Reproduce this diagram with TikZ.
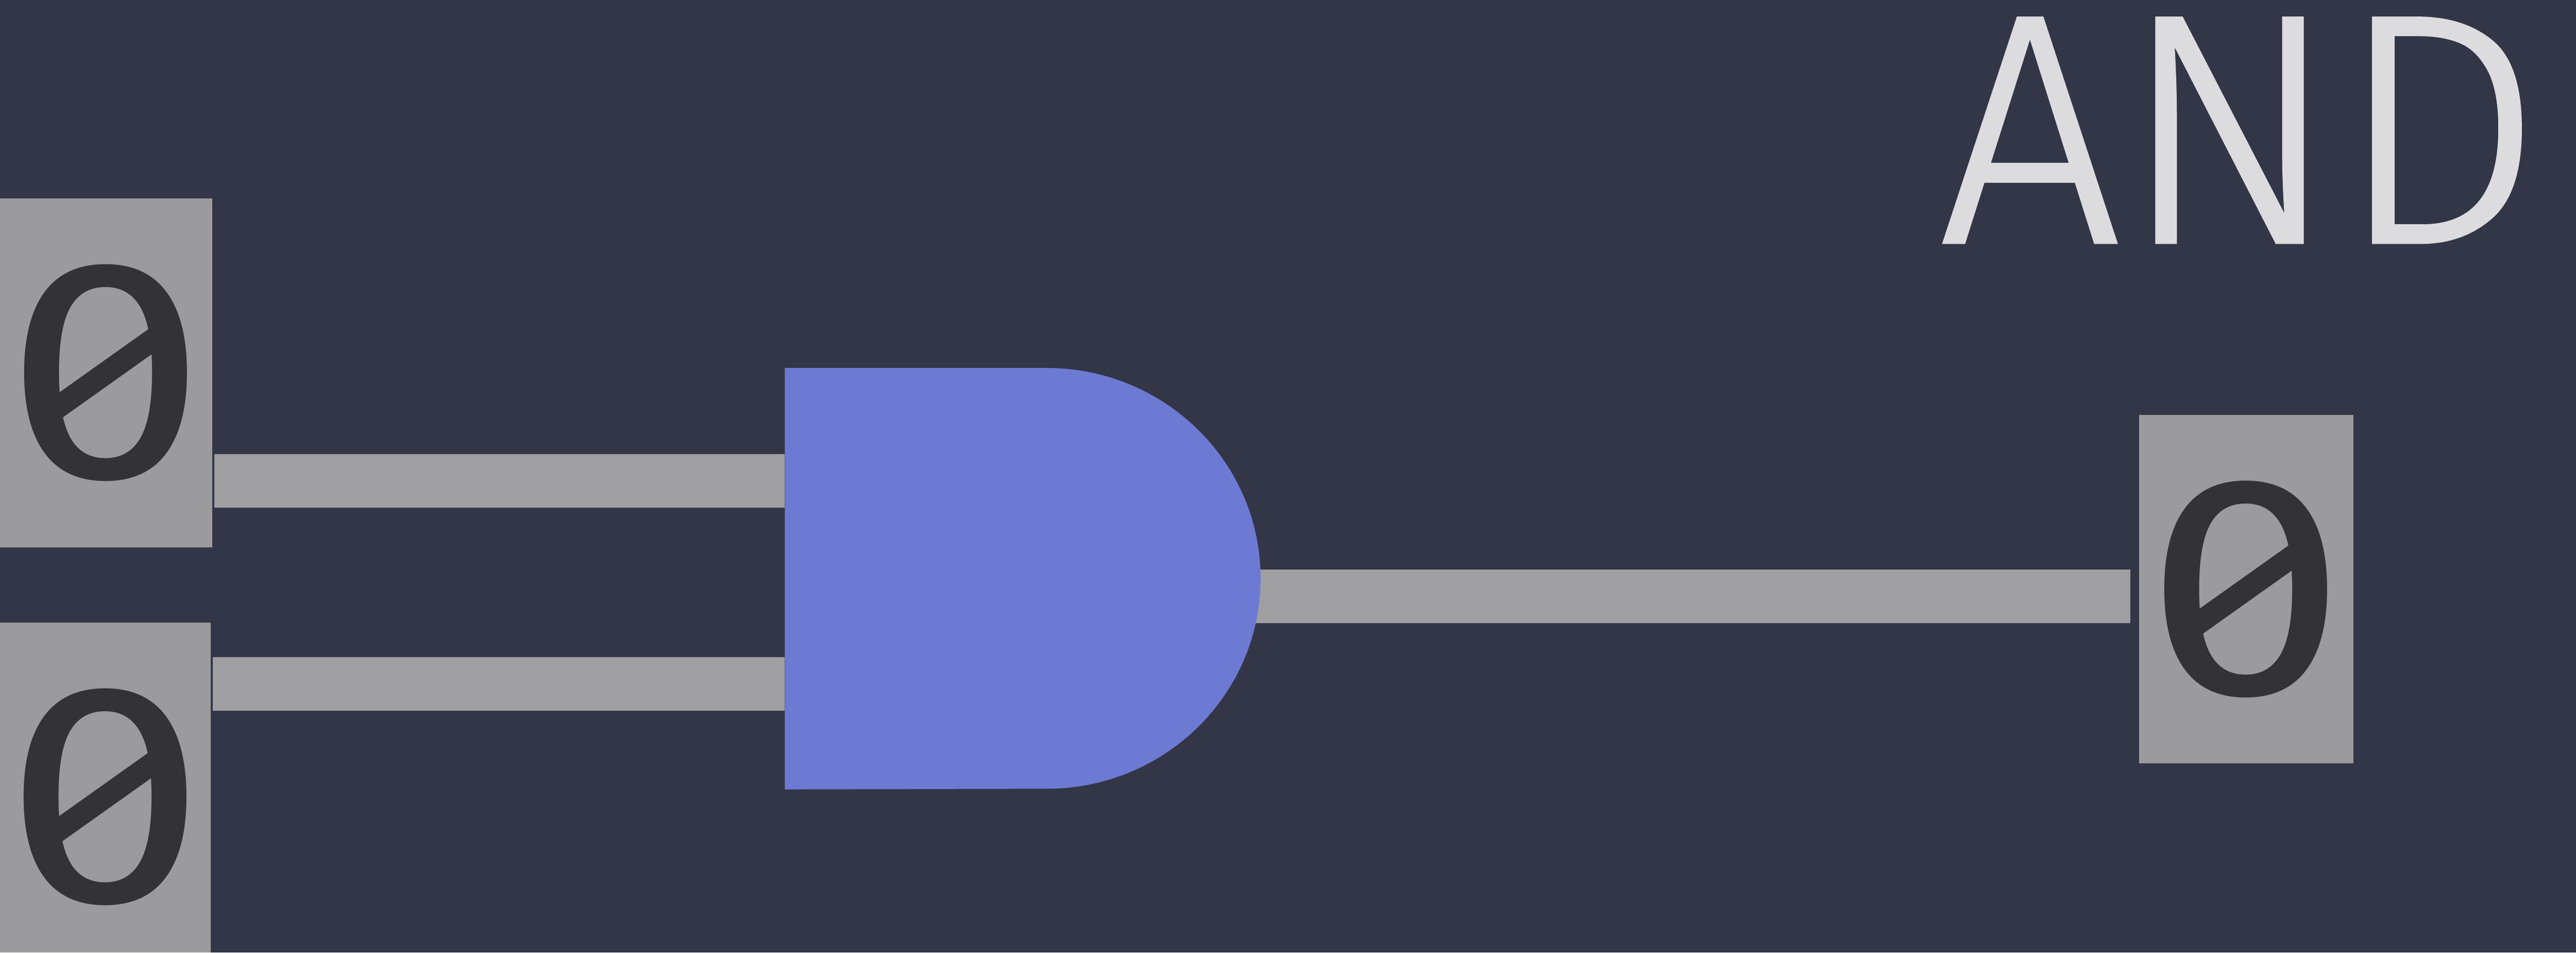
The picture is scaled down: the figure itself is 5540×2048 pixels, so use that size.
\documentclass[tikz,border=0pt]{standalone}
\usepackage{graphicx}
\usepackage{fontspec}
\setmainfont{Fira Sans}
\newfontfamily\titlefont[FakeBold=1]{Fira Sans Light}
\newfontfamily\zerofont{Fira Sans}
\definecolor{bgc}{HTML}{333647}
\definecolor{boxc}{HTML}{9B9B9D}
\definecolor{wirec}{HTML}{9F9FA1}
\definecolor{gatec}{HTML}{6D7AD3}
\definecolor{inkc}{HTML}{333335}
\definecolor{titlec}{HTML}{DCDCDF}
\newcommand{\bitzero}{\scalebox{1.17}[1.01]{0}}
\newcommand{\bitslash}[1]{\draw[slashline] ([xshift=-1.15cm,yshift=-0.82cm]#1.center) -- ([xshift=1.13cm,yshift=0.80cm]#1.center);}
\tikzset{
  bit/.style={fill=boxc,text=inkc,inner sep=0pt,font=\zerofont\fontsize{190}{190}\selectfont},
  bitbare/.style={text=inkc,inner sep=0pt,font=\zerofont\fontsize{190}{190}\selectfont},
  slashline/.style={draw=inkc,line width=0.48cm,line cap=butt},
  wire/.style={draw=wirec,line width=1.15cm,line cap=butt},
  gatebody/.style={fill=gatec},
  title/.style={text=titlec,inner sep=0pt,xscale=0.985,font=\titlefont\fontsize{200}{200}\selectfont}
}
\begin{document}
\begin{tikzpicture}[x=0.01cm,y=-0.01cm]
\useasboundingbox (0,0) rectangle (5540,2048);
\clip (0,0) rectangle (5540,2048);
\fill[bgc] (0,0) rectangle (5540,2048);
\fill[boxc] (0,1338) rectangle (453,2048);
\node[bit,minimum width=4.56cm,minimum height=7.49cm] (in1) at (228,801.5) {\bitzero};
\node[bitbare,minimum width=4.53cm] (in2) at (226.5,1713) {\bitzero};
\node[bit,minimum width=4.61cm,minimum height=7.49cm] (out) at (4830.5,1266.5) {\bitzero};
\bitslash{in1}
\bitslash{in2}
\bitslash{out}
\node[inner sep=0pt,minimum width=10.21cm,minimum height=9.04cm] (gate) at (2199.5,1244) {};
\coordinate (y1) at (0,1034);
\coordinate (y2) at (0,1470);
\coordinate (y3) at (0,1282);
\coordinate (outend) at (4581,1282);
\draw[wire] ([xshift=0.04cm]in1.east |- y1) -- (gate.west |- y1);
\draw[wire] ([xshift=0.04cm]in2.east |- y2) -- (gate.west |- y2);
\draw[wire] (gate.center |- y3) -- (outend);
\fill[gatebody] (gate.north west) -- ([xshift=-4.6cm]gate.north east)
  arc[x radius=4.6cm,y radius=4.52cm,start angle=90,end angle=-90]
  -- (gate.south west) -- cycle;
\node[title] (label) at (4818,280) {AND};
\end{tikzpicture}
\end{document}
